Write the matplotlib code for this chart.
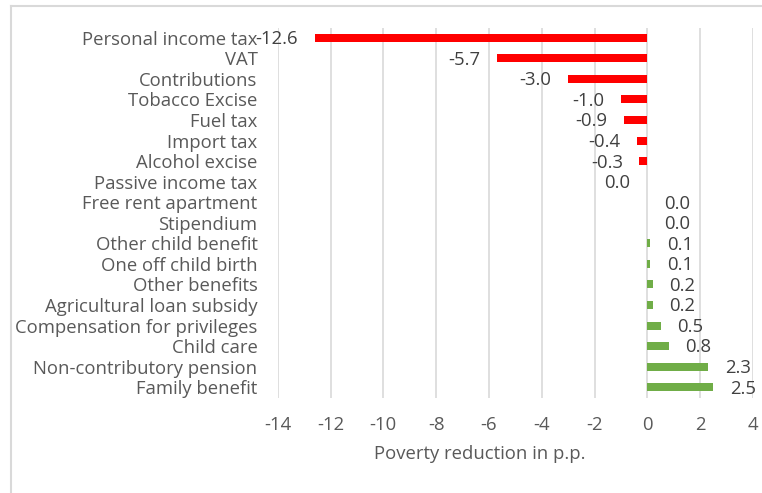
import numpy as np
import matplotlib.pyplot as plt
from matplotlib.lines import Line2D

plt.rcParams['font.family'] = ['Open Sans', 'DejaVu Sans']

categories = ['Personal income tax', 'VAT', 'Contributions', 'Tobacco Excise',
              'Fuel tax', 'Import tax', 'Alcohol excise', 'Passive income tax',
              'Free rent apartment', 'Stipendium', 'Other child benefit',
              'One off child birth', 'Other benefits', 'Agricultural loan subsidy',
              'Compensation for privileges', 'Child care',
              'Non-contributory pension', 'Family benefit']
values = [-12.6, -5.7, -3.0, -1.0, -0.9, -0.4, -0.3, 0.0,
          0.0, 0.0, 0.1, 0.1, 0.2, 0.2, 0.5, 0.8, 2.3, 2.5]
# taxes reduce, benefits add
kinds = ['tax'] * 8 + ['benefit'] * 10
x_ticks = [-14, -12, -10, -8, -6, -4, -2, 0, 2, 4]

colors = {'tax': '#ff0000', 'benefit': '#70ad47'}
grey = '#595959'
fs = 13.3

fig = plt.figure(figsize=(7.62, 4.93), dpi=100)
ax = fig.add_axes([277.7 / 762, 1 - 397.5 / 493, 475.3 / 762, 370 / 493])

y = np.arange(len(categories))
ax.barh(y, values, height=0.39, color=[colors[k] for k in kinds], zorder=3)

for yi, v, k in zip(y, values, kinds):
    if k == 'tax':
        ax.annotate(f'{v:.1f}', (v, yi), xytext=(-12, -1), textcoords='offset points',
                    ha='right', va='center', fontsize=fs, color='#404040')
    else:
        ax.annotate(f'{v:.1f}', (v, yi), xytext=(12, -1), textcoords='offset points',
                    ha='left', va='center', fontsize=fs, color='#404040')

ax.set_xlim(-14, 4)
ax.set_ylim(len(categories) - 0.5, -0.5)
ax.set_xticks(x_ticks)
ax.set_xticklabels([str(t) for t in x_ticks])
ax.set_yticks(y)
ax.set_yticklabels(categories)
ax.tick_params(axis='both', length=0, labelsize=fs, labelcolor=grey)
ax.tick_params(axis='y', pad=14.5)
ax.tick_params(axis='x', pad=13)
ax.grid(axis='x', color='#d9d9d9', linewidth=1.2, zorder=0)
for s in ax.spines.values():
    s.set_visible(False)

fig.text(480 / 762, 1 - 454 / 493, 'Poverty reduction in p.p.', ha='center', va='center',
         fontsize=fs, color=grey)

# chart frame
fig.add_artist(Line2D([11 / 762, 11 / 762], [0, 1 - 6 / 493], color='#d9d9d9', linewidth=1.5))
fig.add_artist(Line2D([11 / 762, 1], [1 - 6 / 493, 1 - 6 / 493], color='#d9d9d9', linewidth=1.5))

fig.savefig('out.png', dpi=100)
